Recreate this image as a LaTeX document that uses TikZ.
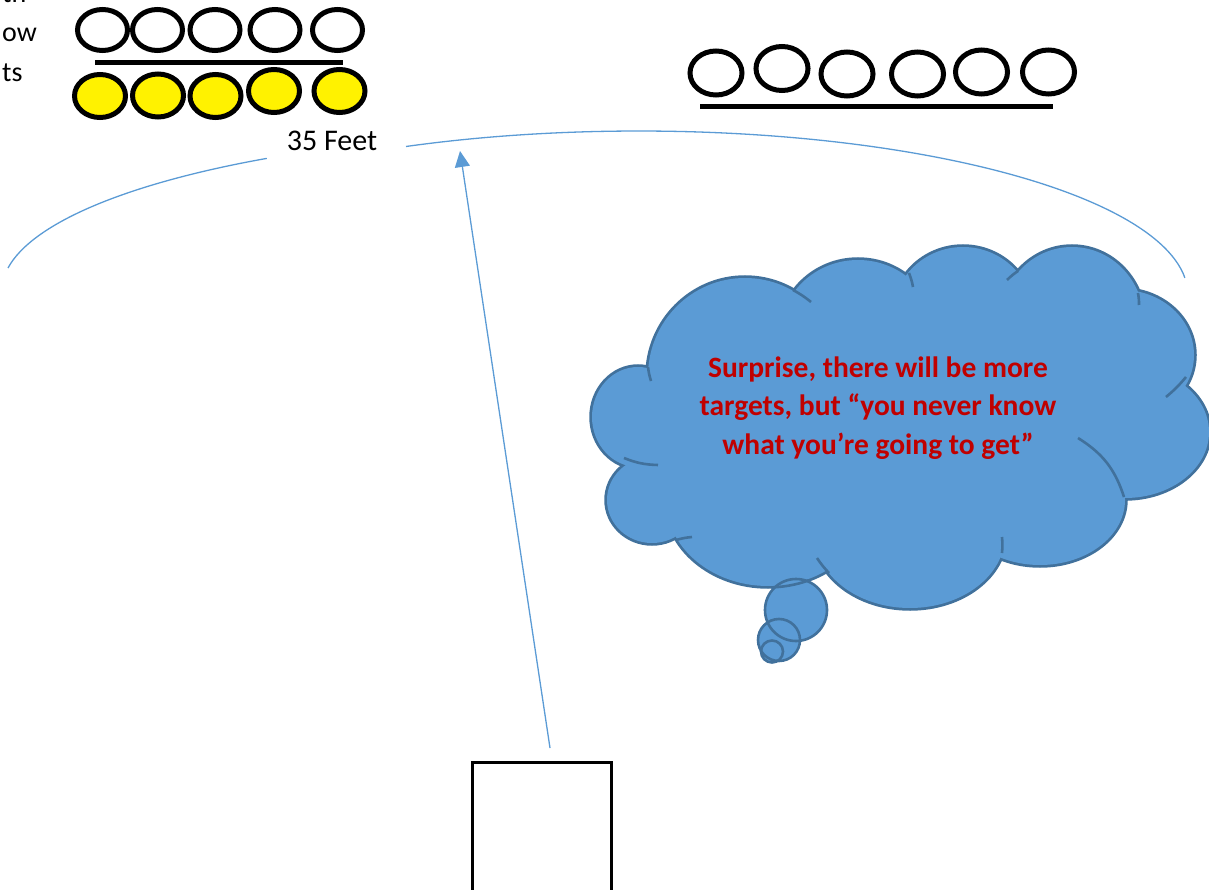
\documentclass[tikz,border=0pt]{standalone}
\usepackage{fontspec}
\setmainfont{Carlito}
\usetikzlibrary{arrows.meta,shapes.geometric}
\definecolor{cfill}{HTML}{5B9BD5}
\definecolor{cline}{HTML}{41719C}
\definecolor{ctext}{HTML}{C00000}
\definecolor{arcc}{HTML}{5B9BD5}
\begin{document}
\begin{tikzpicture}[x=1pt,y=1pt,
  tgt/.style={ellipse, draw=black, line width=5pt, inner sep=0pt, minimum width=50pt, minimum height=41pt, fill=white},
  ytgt/.style={tgt, fill=yellow, minimum width=51pt, minimum height=43pt},
  rtgt/.style={tgt, minimum width=52pt, minimum height=44pt},
  bar/.style={line width=5pt, draw=black},
  lbl/.style={font=\fontsize{28}{34}\selectfont, inner sep=0pt},
  thin/.style={draw=arcc, line width=1.3pt},
  lobe/.style={draw=cline, line width=5.5pt},
  stub/.style={draw=cline, line width=2.6pt},
  puff/.style={draw=cline, line width=2.6pt}
]
\useasboundingbox (0,0) rectangle (1209,-890);

% cropped side text
\node[lbl, anchor=base west] (t1) at (2,-3) {th};
\node[lbl, anchor=base west] (t2) at (2,-42) {ow};
\node[lbl, anchor=base west] (t3) at (2,-82) {ts};

% left group of targets
\node[tgt] (w1) at (102.5,-30) {};
\node[tgt] (w2) at (157.5,-30) {};
\node[tgt] (w3) at (215,-30) {};
\node[tgt] (w4) at (275,-30) {};
\node[tgt] (w5) at (337.5,-30) {};
\coordinate (lb1) at (95,-63);
\coordinate (lb2) at (343,-63);
\draw[bar] (lb1) -- (lb2);
\node[ytgt] (y1) at (100,-96) {};
\node[ytgt] (y2) at (158,-95.5) {};
\node[ytgt] (y3) at (215.5,-96) {};
\node[ytgt] (y4) at (274,-91) {};
\node[ytgt] (y5) at (339.5,-91) {};

% right group of targets
\node[rtgt] (r1) at (716,-73) {};
\node[rtgt] (r2) at (782,-68.5) {};
\node[rtgt] (r3) at (847,-74) {};
\node[rtgt] (r4) at (917.5,-74) {};
\node[rtgt] (r5) at (981.5,-72) {};
\node[rtgt] (r6) at (1048.5,-72) {};
\coordinate (rb1) at (700,-107);
\coordinate (rb2) at (1053,-107);
\draw[bar] (rb1) -- (rb2);

% distance arc
\node[lbl, font=\fontsize{30}{36}\selectfont] (feet) at (332,-141) {35 Feet};
\coordinate (la) at (8,-268);
\draw[thin] (la) arc[start angle=171.8, end angle=123.7, x radius=595, y radius=159];
\coordinate (ra) at (406,-146.5);
\draw[thin] (ra) arc[start angle=115.1, end angle=6, x radius=549, y radius=164];

% shooting box and arrow
\node[draw=black, line width=3pt, minimum width=139.5pt, minimum height=140pt, inner sep=0pt, anchor=north west] (box) at (470.5,-760.5) {};
\coordinate (as) at (550,-748);
\coordinate (ae) at (460,-151);
\draw[thin, -{Triangle[length=16pt,width=15pt]}] (as) -- (ae);

% cloud
\foreach \cx/\cy/\rx/\ry in {745/376/97/98, 858/335/78/75, 963/315/70/68, 1072/322/72/75, 1122/355/72/65, 1125/432/84/66, 1040/500/85/65, 910/535/95/73, 768/500/102/86, 652/500/45/43, 638/417/46/50}
  \draw[lobe] (\cx,-\cy) ellipse[x radius=\rx, y radius=\ry];
\foreach \cx/\cy/\rx/\ry in {745/376/97/98, 858/335/78/75, 963/315/70/68, 1072/322/72/75, 1122/355/72/65, 1125/432/84/66, 1040/500/85/65, 910/535/95/73, 768/500/102/86, 652/500/45/43, 638/417/46/50}
  \fill[cfill] (\cx,-\cy) ellipse[x radius=\rx, y radius=\ry];
\fill[cfill] (745,-376) -- (858,-335) -- (963,-315) -- (1072,-322) -- (1122,-355) -- (1125,-432) -- (1040,-500) -- (910,-535) -- (768,-500) -- (652,-500) -- (638,-417) -- cycle;

% interior stubs
\draw[stub] (648,-367) to[bend right=5] (651,-381);
\draw[stub] (793,-290) to[bend left=5] (811,-302);
\draw[stub] (909,-273) to[bend left=5] (913,-287);
\draw[stub] (1018,-271) to[bend right=5] (1007,-280);
\draw[stub] (1138,-293) to[bend left=5] (1139,-305);
\draw[stub] (1186,-377) to[bend left=5] (1166,-397);
\draw[stub] (1124,-497) to[bend right=20] (1078,-438);
\draw[stub] (1002,-553) to[bend right=5] (1002,-537);
\draw[stub] (829,-573) to[bend left=5] (817,-558);
\draw[stub] (676,-540) to[bend left=5] (692,-537);
\draw[stub] (624,-458) to[bend right=10] (658,-465);

% thought bubbles
\fill[cfill] (796,-610) circle[radius=31];
\fill[cfill] (779,-640) circle[radius=21];
\fill[cfill] (772,-651.5) circle[radius=11];
\begin{scope}
  \clip (796,-610) circle[radius=33];
  \draw[stub] (768,-500) ellipse[x radius=103.4, y radius=87.4];
\end{scope}
\draw[puff] (796,-610) circle[radius=31];
\draw[puff] (779,-640) circle[radius=21];
\draw[puff] (772,-651.5) circle[radius=11];

\node[font=\fontsize{29.5}{38.5}\selectfont\bfseries, text=ctext, align=center, inner sep=0pt] (msg) at (878,-408) {Surprise, there will be more\\targets, but “you never know\\what you’re going to get”};
\end{tikzpicture}
\end{document}
